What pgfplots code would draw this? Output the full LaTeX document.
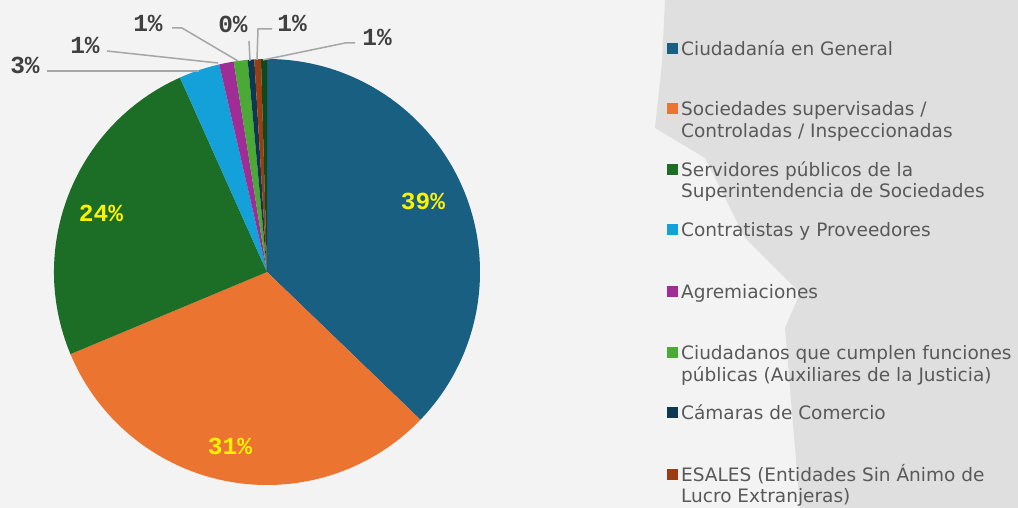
\documentclass[border=0pt]{standalone}
\usepackage{pgfplots}
\usepackage{pgfplotstable}
\usepackage{fontspec}
\setmainfont{DejaVu Sans}
\newfontfamily\mono{Liberation Mono}
\pgfplotsset{compat=1.18}

\definecolor{c0}{HTML}{185F82}
\definecolor{c1}{HTML}{EB7431}
\definecolor{c2}{HTML}{1C6E27}
\definecolor{c3}{HTML}{14A0D8}
\definecolor{c4}{HTML}{A02C95}
\definecolor{c5}{HTML}{4BAA35}
\definecolor{c6}{HTML}{0E3852}
\definecolor{c7}{HTML}{9B3D13}
\definecolor{c8}{HTML}{10491B}
\definecolor{legtext}{HTML}{595959}
\definecolor{lbltext}{HTML}{404040}
\definecolor{leader}{HTML}{A6A6A6}
\definecolor{bglight}{HTML}{F3F3F3}
\definecolor{bggray}{HTML}{DFDFDF}

% share of each group, in percent (clockwise from 12 o'clock)
\pgfplotstableread{
idx value
0 37.2
1 31.5
2 24.6
3 3.1
4 1.1
5 1.05
6 0.5
7 0.5
8 0.45
}\piedata

\begin{document}
\begin{tikzpicture}
\begin{axis}[width=1018pt,height=508pt,scale only axis,
  xmin=0,xmax=1018,ymin=0,ymax=508,hide axis,clip=false]
% background
\fill[bglight] (axis cs:0,0) rectangle (axis cs:1018,508);
\fill[bggray] (axis cs:665,508) -- (axis cs:1018,508) -- (axis cs:1018,0) -- (axis cs:800,0)
  -- (axis cs:785,180) -- (axis cs:800,215) -- (axis cs:745,270) -- (axis cs:705,350)
  -- (axis cs:655,380) -- (axis cs:662,445) -- cycle;
\xdef\curangle{90}
\pgfplotsinvokeforeach{0,...,8}{
  \pgfplotstablegetelem{#1}{value}\of\piedata
  \pgfmathsetmacro\angA{\curangle}
  \pgfmathsetmacro\angB{\curangle-3.6*\pgfplotsretval}
  \xdef\curangle{\angB}
  \edef\temp{\noexpand\fill[c#1] (axis cs:267,236) -- ++(\angA:213pt) arc[start angle=\angA, end angle=\angB, radius=213pt] -- cycle;}
  \temp
}
% inside labels
\begin{scope}[every node/.style={font=\mono\bfseries\fontsize{24.5}{26}\selectfont, text=yellow, inner sep=0pt}]
\node at (axis cs:423,307) {39\%};
\node at (axis cs:230,62) {31\%};
\node at (axis cs:101,295) {24\%};
\end{scope}
% leader lines
\begin{scope}[leader, line width=1.5pt]
\draw (axis cs:47,437) -- (axis cs:199,437);
\draw (axis cs:107,457) -- (axis cs:218,445);
\draw (axis cs:172,480) -- (axis cs:182,480) -- (axis cs:238,447);
\draw (axis cs:249,467) -- (axis cs:250,447);
\draw (axis cs:272,479) -- (axis cs:258,479) -- (axis cs:257,448);
\draw (axis cs:355,465) -- (axis cs:345,465) -- (axis cs:263,448);
\end{scope}
\begin{scope}[every node/.style={font=\mono\bfseries\fontsize{24.5}{26}\selectfont, text=lbltext, inner sep=0pt}]
\node at (axis cs:25,443) {3\%};
\node at (axis cs:85,463) {1\%};
\node at (axis cs:148,485) {1\%};
\node at (axis cs:233,484) {0\%};
\node at (axis cs:292,485) {1\%};
\node at (axis cs:377,471) {1\%};
\end{scope}
% legend
\begin{scope}[every node/.style={font=\fontsize{18.5}{21}\selectfont, text=legtext, inner sep=0pt, anchor=base west}]
\fill[c0] (axis cs:667,454) rectangle (axis cs:678,465);
\node at (axis cs:681,452) {Ciudadanía en General};
\fill[c1] (axis cs:667,394) rectangle (axis cs:678,405);
\node at (axis cs:681,392) {Sociedades supervisadas /};
\node at (axis cs:681,370) {Controladas / Inspeccionadas};
\fill[c2] (axis cs:667,333) rectangle (axis cs:678,344);
\node at (axis cs:681,331) {Servidores públicos de la};
\node at (axis cs:681,310) {Superintendencia de Sociedades};
\fill[c3] (axis cs:667,273) rectangle (axis cs:678,284);
\node at (axis cs:681,271) {Contratistas y Proveedores};
\fill[c4] (axis cs:667,211) rectangle (axis cs:678,222);
\node at (axis cs:681,209) {Agremiaciones};
\fill[c5] (axis cs:667,150) rectangle (axis cs:678,161);
\node at (axis cs:681,148) {Ciudadanos que cumplen funciones};
\node at (axis cs:681,126) {públicas (Auxiliares de la Justicia)};
\fill[c6] (axis cs:667,90) rectangle (axis cs:678,101);
\node at (axis cs:681,88) {Cámaras de Comercio};
\fill[c7] (axis cs:667,28) rectangle (axis cs:678,39);
\node at (axis cs:681,26) {ESALES (Entidades Sin Ánimo de};
\node at (axis cs:681,5) {Lucro Extranjeras)};
\end{scope}
\end{axis}
\end{tikzpicture}
\end{document}
